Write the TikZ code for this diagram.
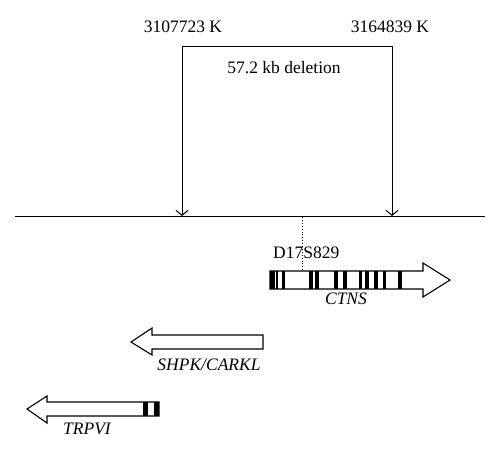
\documentclass[tikz,border=0pt]{standalone}
\usepackage{fontspec}
\setmainfont{Liberation Serif}
\usetikzlibrary{arrows.meta,positioning}

\begin{document}
\begin{tikzpicture}[
		x=1pt,y=-1pt,
		>={Straight Barb[length=5pt,width=12pt]},
		txt/.style={
			font=\fontsize{17.5}{20}\selectfont,
			inner sep=0pt
		},
		genename/.style={
			font=\fontsize{17.5}{20}\selectfont\itshape,
			inner sep=0pt
		},
		deletion/.style={
			<->,
			line width=1pt
		},
		genebox/.style={
			draw,
			line width=1.1pt,
			fill=white
		},
		exon/.style={
			fill=black
		}
		]
		\useasboundingbox (0,0) rectangle (500,460);
		% chromosome
		\coordinate (chrL) at (15,216);
		\coordinate (chrR) at (485,216);
		\draw[line width=1pt] (chrL) -- (chrR);
		% deletion
		\coordinate (delL) at (182,216);
		\coordinate (delR) at (392,216);
		\coordinate (topL) at (182,47);
		\coordinate (topR) at (392,47);
		\draw[deletion] (delL) -- (topL) -- (topR) -- (delR);
		\node[txt] (posL) at (183,27) {3107723 K};
		\node[txt] (posR) at (390,27) {3164839 K};
		\node[txt] (size) at (284,68) {57.2 kb deletion};
		% marker
		\coordinate (mk) at (302,217);
		\coordinate (mkend) at (302,284);
		\draw[dotted,line width=0.9pt] (mk) -- (mkend);
		\node[txt,anchor=west] (marker) at (273,253) {D17S829};
		% CTNS
		\draw[genebox] (270,271) -- (423,271) -- (423,263) -- (450,280) -- (423,297) -- (423,289) -- (270,289) -- cycle;
		\foreach \a/\b in {270/274.5,275.5/278,281.5/284.5,309/313,315/318.5,334/337.5,343/346.5,358.5/361.5,365/368.5,374/377.5,382.5/385.5,397.5/401.5}
			\fill[exon] (\a,271) rectangle (\b,289);
		\node[genename] (ctns) at (346,299) {CTNS};
		% SHPK/CARKL
		\draw[genebox] (263,335) -- (152,335) -- (152,328) -- (131,342) -- (152,355) -- (152,349) -- (263,349) -- cycle;
		\node[genename] (shpk) at (209,365) {SHPK/CARKL};
		% TRPVI
		\draw[genebox] (159,402) -- (47,402) -- (47,396) -- (27,409) -- (47,423) -- (47,416) -- (159,416) -- cycle;
		\foreach \a/\b in {143/148,154/159}
			\fill[exon] (\a,402) rectangle (\b,416);
		\node[genename] (trpv) at (87,429) {TRPVI};
		\end{tikzpicture}
\end{document}
